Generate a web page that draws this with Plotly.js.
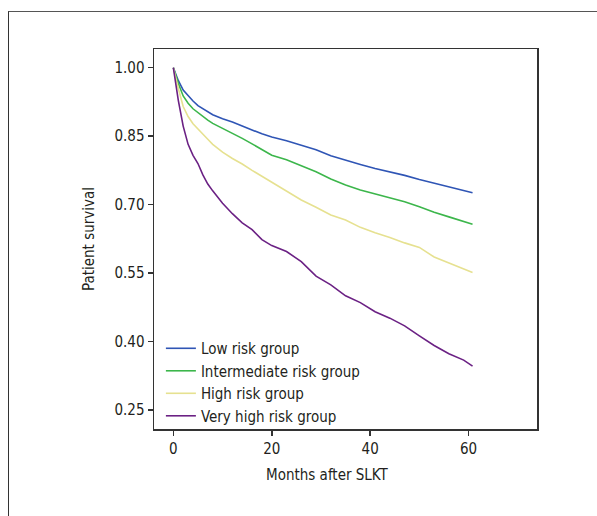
<!DOCTYPE html>
<html>
<head>
<meta charset="utf-8">
<script src="https://cdn.plot.ly/plotly-3.0.1.min.js"></script>
<style>
  html, body { margin: 0; padding: 0; background: #fff; }
  #chart { position: absolute; left: 0; top: 0; width: 597px; height: 516px; }
  #frame { position: absolute; left: 8px; top: 11px; right: 0; bottom: 0;
           border-left: 1.5px solid #333; border-top: 1.5px solid #555; pointer-events: none; }
</style>
</head>
<body>
<div id="chart"></div>
<div id="frame"></div>
<script>
const months = [0, 0.5, 1, 2, 3, 4, 5, 6, 7, 8, 10, 12, 14, 16, 18, 20, 23, 26, 29, 32, 35, 38, 41, 44, 47, 50, 53, 56, 59, 60.8];

const lowRisk = [1.000, 0.984, 0.972, 0.951, 0.938, 0.927, 0.917, 0.910, 0.903, 0.897, 0.888, 0.881, 0.872, 0.863, 0.855, 0.848, 0.840, 0.830, 0.820, 0.807, 0.797, 0.788, 0.779, 0.772, 0.764, 0.755, 0.747, 0.738, 0.731, 0.726];
const intermediateRisk = [1.000, 0.982, 0.966, 0.938, 0.922, 0.910, 0.901, 0.893, 0.885, 0.878, 0.867, 0.857, 0.845, 0.833, 0.820, 0.808, 0.798, 0.785, 0.772, 0.756, 0.743, 0.732, 0.723, 0.715, 0.706, 0.695, 0.683, 0.673, 0.663, 0.657];
const highRisk = [1.000, 0.975, 0.955, 0.915, 0.893, 0.877, 0.865, 0.853, 0.843, 0.832, 0.815, 0.801, 0.789, 0.775, 0.762, 0.748, 0.730, 0.710, 0.694, 0.677, 0.666, 0.650, 0.638, 0.628, 0.616, 0.606, 0.585, 0.572, 0.560, 0.551];
const veryHighRisk = [1.000, 0.960, 0.929, 0.872, 0.832, 0.808, 0.790, 0.765, 0.745, 0.730, 0.703, 0.680, 0.660, 0.645, 0.623, 0.610, 0.597, 0.575, 0.543, 0.524, 0.500, 0.485, 0.465, 0.451, 0.434, 0.412, 0.391, 0.373, 0.359, 0.346];

const seriesNames = ["Low risk group", "Intermediate risk group", "High risk group", "Very high risk group"];
const seriesColors = ["#2f55b5", "#3cb64b", "#e6e190", "#6b2184"];
const yTicks = [0.25, 0.40, 0.55, 0.70, 0.85, 1.00];
const xTicks = [0, 20, 40, 60];
const xTitle = 'Months after SLKT';
const yTitle = 'Patient survival';

const FONT = '"DejaVu Sans Condensed", "Liberation Sans Narrow", "Open Sans", sans-serif';
const TXT = '#231f20';
const seriesData = [lowRisk, intermediateRisk, highRisk, veryHighRisk];

const traces = seriesData.map((ys, i) => ({
  type: 'scatter',
  mode: 'lines',
  x: months,
  y: ys,
  name: seriesNames[i],
  line: { color: seriesColors[i], width: 1.6, shape: 'linear' },
  hoverinfo: 'skip'
}));

const layout = {
  width: 597,
  height: 516,
  margin: { l: 154, r: 60, t: 49, b: 87, pad: 0 },
  paper_bgcolor: '#fff',
  plot_bgcolor: '#fff',
  font: { family: FONT, size: 15, color: TXT },
  showlegend: true,
  legend: {
    x: 0.018, y: -0.008, xanchor: 'left', yanchor: 'bottom',
    bgcolor: 'rgba(0,0,0,0)',
    font: { family: FONT, size: 15, color: TXT },
    itemwidth: 30,
    tracegroupgap: 0,
    traceorder: 'normal'
  },
  xaxis: {
    range: [-3.93, 73.9],
    tickvals: xTicks,
    ticktext: xTicks.map(String),
    ticks: 'outside', ticklen: 5, tickwidth: 1.5, tickcolor: '#333',
    showline: true, linecolor: '#333', linewidth: 1.5, mirror: true,
    showgrid: false, zeroline: false,
    tickfont: { family: FONT, size: 15, color: TXT }
  },
  yaxis: {
    range: [0.208, 1.041],
    tickvals: yTicks,
    ticktext: yTicks.map(v => v.toFixed(2)),
    ticks: 'outside', ticklen: 5, tickwidth: 1.5, tickcolor: '#333',
    showline: true, linecolor: '#333', linewidth: 1.5, mirror: true,
    showgrid: false, zeroline: false,
    tickfont: { family: FONT, size: 15, color: TXT },
    title: { text: yTitle, font: { family: FONT, size: 15, color: TXT }, standoff: 16 }
  },
  annotations: [{
    text: xTitle,
    xref: 'paper', yref: 'paper',
    x: 0.452, y: -0.121,
    xanchor: 'center', yanchor: 'middle',
    showarrow: false,
    font: { family: FONT, size: 15, color: TXT }
  }]
};

Plotly.newPlot('chart', traces, layout, { displayModeBar: false, staticPlot: true });
</script>
</body>
</html>
